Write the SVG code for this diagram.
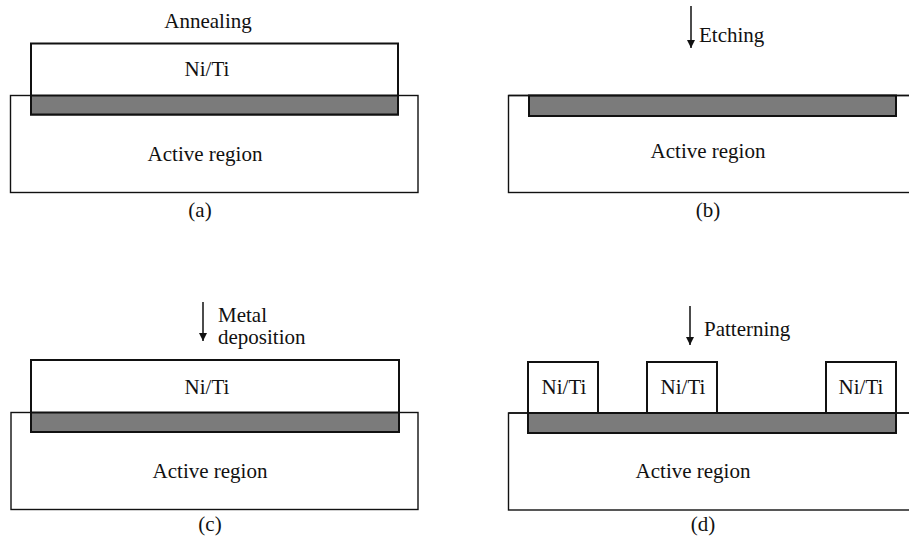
<svg xmlns="http://www.w3.org/2000/svg" width="909" height="538" viewBox="0 0 909 538">
<defs>
<style>
.t{font-family:'Liberation Serif','Times New Roman','DejaVu Serif',serif;font-size:21px;fill:#111}
.m{text-anchor:middle}
.act{fill:#fff;stroke:#111;stroke-width:1.4}
.ni{fill:#fff;stroke:#111;stroke-width:2}
.gr{fill:#7b7b7b;stroke:#111;stroke-width:2}
.ar{stroke:#111;stroke-width:1.5;fill:none}
</style>
<marker id="ah" viewBox="0 0 10 10" refX="10" refY="5" markerWidth="8" markerHeight="8" markerUnits="userSpaceOnUse" orient="auto">
<path d="M0,0 L10,5 L0,10 Z" fill="#111"/>
</marker>
</defs>
<rect width="909" height="538" fill="#fff"/>

<g id="panel-a">
<rect class="act" x="10.5" y="95.5" width="407.5" height="97"/>
<rect class="ni" x="31" y="43.5" width="367" height="71"/>
<rect class="gr" x="31" y="95.5" width="367" height="19"/>
<text class="t m" x="208" y="28">Annealing</text>
<text class="t m" x="207" y="76">Ni/Ti</text>
<text class="t m" x="205" y="161">Active region</text>
<text class="t m" x="200" y="217">(a)</text>
</g>

<g id="panel-b">
<rect class="act" x="508.5" y="95.5" width="402" height="97"/>
<path class="gr" d="M529,95.5 V116 H896 V95.5 Z"/>
<line class="act" x1="508.5" y1="95.5" x2="909" y2="95.5"/>
<text class="t" x="699" y="42">Etching</text>
<text class="t m" x="708" y="158">Active region</text>
<text class="t m" x="708" y="217">(b)</text>
</g>

<g id="panel-c">
<rect class="act" x="11" y="412.5" width="407" height="97"/>
<rect class="ni" x="31" y="360" width="368" height="72"/>
<rect class="gr" x="31" y="412.5" width="368" height="19.5"/>
<text class="t" x="218" y="322" font-size="19.5">Metal</text>
<text class="t" x="218" y="344" font-size="19.5">deposition</text>
<text class="t m" x="207" y="394">Ni/Ti</text>
<text class="t m" x="210" y="478">Active region</text>
<text class="t m" x="210" y="531">(c)</text>
</g>

<g id="panel-d">
<rect class="act" x="508.5" y="413" width="402" height="97"/>
<rect class="gr" x="528" y="413" width="368" height="20"/>
<line class="act" x1="508.5" y1="413" x2="909" y2="413"/>
<rect class="ni" x="528" y="362" width="70" height="51"/>
<rect class="ni" x="647" y="362" width="70" height="51"/>
<rect class="ni" x="826" y="362" width="70" height="51"/>
<text class="t m" x="564" y="394">Ni/Ti</text>
<text class="t m" x="683" y="394">Ni/Ti</text>
<text class="t m" x="861" y="394">Ni/Ti</text>
<text class="t" x="704" y="336">Patterning</text>
<text class="t m" x="693" y="478">Active region</text>
<text class="t m" x="703" y="531">(d)</text>
</g>

<g id="connectors">
<line class="ar" x1="691" y1="6" x2="691" y2="48" marker-end="url(#ah)"/>
<line class="ar" x1="203" y1="302" x2="203" y2="341" marker-end="url(#ah)"/>
<line class="ar" x1="690" y1="306" x2="690" y2="345" marker-end="url(#ah)"/>
</g>
</svg>
